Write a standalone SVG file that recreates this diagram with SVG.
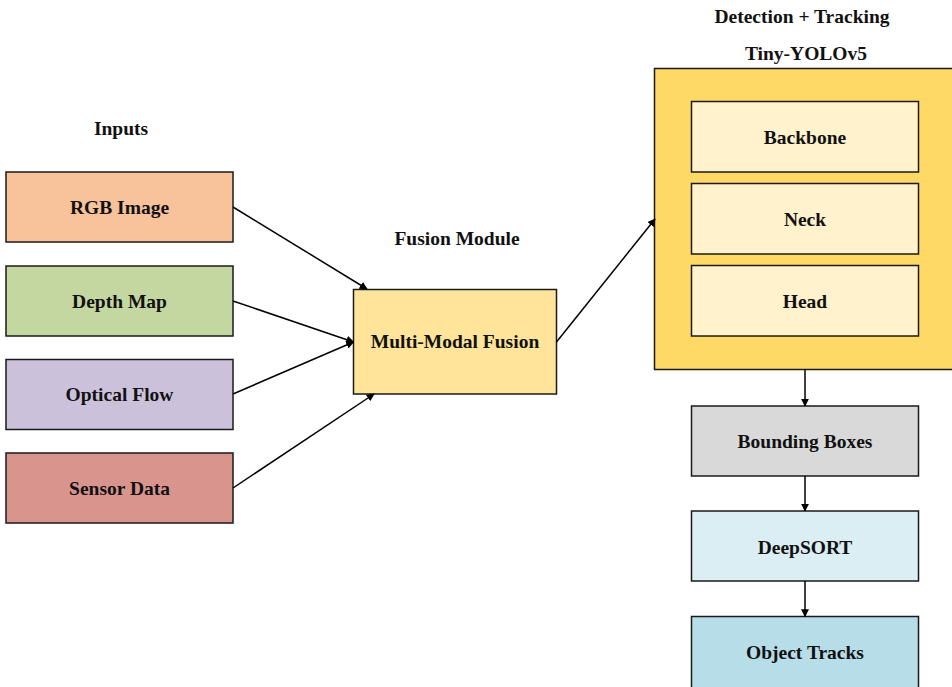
<svg xmlns="http://www.w3.org/2000/svg" width="952" height="687" viewBox="0 0 952 687">
<style>
.b{stroke:#1a1a1a;stroke-width:1.5}
.t{font-family:"Liberation Serif","Times New Roman",serif;font-weight:bold;font-size:19.5px;fill:#111;text-anchor:middle}
.c{stroke:#000;stroke-width:1.5;fill:none;marker-end:url(#ah)}
</style>
<defs>
<marker id="ah" viewBox="0 0 10 10" refX="9" refY="5" markerWidth="8" markerHeight="8" markerUnits="userSpaceOnUse" orient="auto">
<path d="M0,0 L10,5 L0,10 z" fill="#000"/>
</marker>
</defs>
<rect width="952" height="687" fill="#fff"/>
<text class="t" x="121" y="135">Inputs</text>
<text class="t" x="457" y="245">Fusion Module</text>
<text class="t" x="802" y="22.5">Detection + Tracking</text>
<text class="t" x="806" y="60">Tiny-YOLOv5</text>
<g id="rgb"><rect class="b" x="6" y="172" width="227" height="70" fill="#F8C39B"/><text class="t" x="119.5" y="214">RGB Image</text></g>
<g id="depth"><rect class="b" x="6" y="266" width="227" height="70" fill="#C4D7A0"/><text class="t" x="119.5" y="308">Depth Map</text></g>
<g id="flow"><rect class="b" x="6" y="359.5" width="227" height="70" fill="#CBC1DA"/><text class="t" x="119.5" y="401">Optical Flow</text></g>
<g id="sensor"><rect class="b" x="6" y="453" width="227" height="70" fill="#D9948E"/><text class="t" x="119.5" y="495">Sensor Data</text></g>
<g id="fusion"><rect class="b" x="353.5" y="289.5" width="203" height="104.5" fill="#FFE49A"/><text class="t" x="455" y="348">Multi-Modal Fusion</text></g>
<g id="yolo"><rect class="b" x="654.5" y="68.5" width="300" height="301" fill="#FFD966"/>
<g id="backbone"><rect class="b" x="691.5" y="101.5" width="227" height="70.5" fill="#FFF2CC"/><text class="t" x="805" y="143.5">Backbone</text></g>
<g id="neck"><rect class="b" x="691.5" y="183.5" width="227" height="70.5" fill="#FFF2CC"/><text class="t" x="805" y="225.5">Neck</text></g>
<g id="head"><rect class="b" x="691.5" y="265.5" width="227" height="70.5" fill="#FFF2CC"/><text class="t" x="805" y="307.5">Head</text></g>
</g>
<g id="bbox"><rect class="b" x="691.5" y="406" width="227" height="70" fill="#D9D9D9"/><text class="t" x="805" y="448">Bounding Boxes</text></g>
<g id="deepsort"><rect class="b" x="691.5" y="511" width="227" height="70" fill="#DAEEF3"/><text class="t" x="805" y="553.5">DeepSORT</text></g>
<g id="tracks"><rect class="b" x="691.5" y="616.5" width="227" height="75" fill="#B7DDE8"/><text class="t" x="805" y="658.5">Object Tracks</text></g>
<g id="connectors">
<line class="c" x1="233" y1="207" x2="367" y2="289"/>
<line class="c" x1="233" y1="301" x2="353.5" y2="342"/>
<line class="c" x1="233" y1="394" x2="353.5" y2="342"/>
<line class="c" x1="233" y1="488" x2="374" y2="394"/>
<line class="c" x1="556.5" y1="342" x2="655" y2="219"/>
<line class="c" x1="805" y1="369.5" x2="805" y2="406"/>
<line class="c" x1="805" y1="476" x2="805" y2="511"/>
<line class="c" x1="805" y1="581" x2="805" y2="616.5"/>
</g>
</svg>
